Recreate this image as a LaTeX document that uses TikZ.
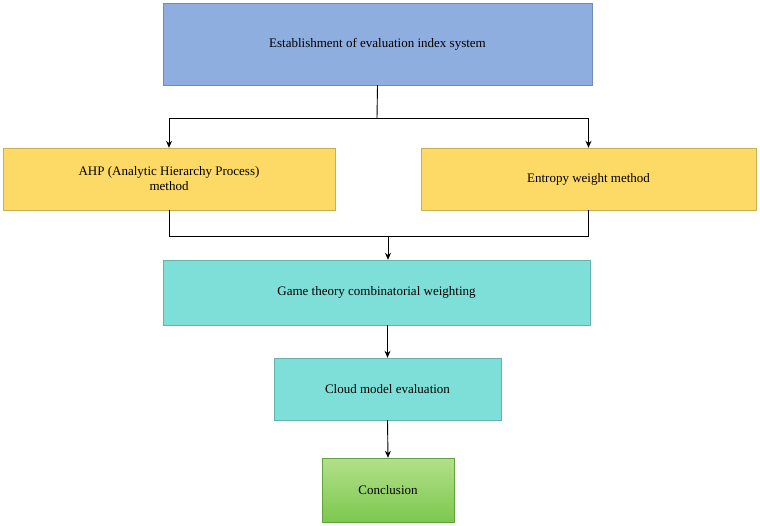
\documentclass[tikz,border=0pt]{standalone}
\usepackage{fontspec}
\setmainfont{Liberation Serif}
\usetikzlibrary{arrows.meta}
\definecolor{cblue}{HTML}{8FAEE0}
\definecolor{cyel}{HTML}{FDD966}
\definecolor{cteal}{HTML}{7EDFD9}
\definecolor{cg1}{HTML}{B3E08A}
\definecolor{cg2}{HTML}{7CC84E}
\begin{document}
\begin{tikzpicture}[x=1pt,y=-1pt,
  box/.style={draw=#1!80!black,line width=0.4pt,fill=#1,font=\fontsize{13}{15}\selectfont,align=center,inner sep=0pt},
  arr/.style={-{Stealth[length=7pt,width=6pt]},line width=0.9pt},
  ln/.style={line width=0.9pt}]
\useasboundingbox (0,0) rectangle (760,526);
\node[box=cblue,minimum width=429pt,minimum height=82pt] (a) at (377.5,44) {Establishment of evaluation index system};
\node[box=cyel,minimum width=332pt,minimum height=62pt] (b) at (169,179) {AHP (Analytic Hierarchy Process)\\method};
\node[box=cyel,minimum width=335pt,minimum height=62pt] (c) at (588.5,179) {Entropy weight method};
\node[box=cteal,minimum width=427pt,minimum height=65pt] (d) at (376.5,292.5) {Game theory combinatorial weighting};
\node[box=cteal,minimum width=227pt,minimum height=62pt] (e) at (387.5,389) {Cloud model evaluation};
\node[draw=cg2!80!black,top color=cg1,bottom color=cg2,minimum width=132pt,minimum height=64pt,font=\fontsize{13}{15}\selectfont,inner sep=0pt] (f) at (388,490) {Conclusion};
\coordinate (j1) at (377,118);
\coordinate (j2) at (388,236);
\draw[ln] (a.south) -- (j1);
\draw[arr] (j1) -| (b.north);
\draw[arr] (j1) -| (c.north);
\draw[ln] (b.south) |- (j2);
\draw[ln] (c.south) |- (j2);
\draw[arr] (j2) -- (j2 |- d.north);
\draw[arr] (e.north |- d.south) -- (e.north);
\draw[arr] (e.south) -- (f.north);
\end{tikzpicture}
\end{document}
